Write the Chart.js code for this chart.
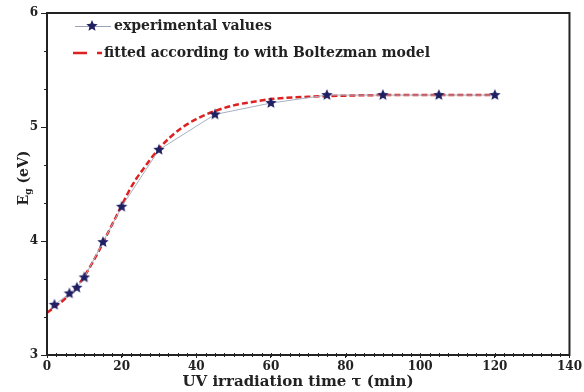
<!DOCTYPE html>
<html>
<head>
<meta charset="utf-8">
<script src="https://cdn.jsdelivr.net/npm/chart.js@4"></script>
<style>
  html, body { margin: 0; padding: 0; background: #fff; }
  #wrap { width: 584px; height: 392px; }
</style>
</head>
<body>
<div id="wrap"><canvas id="eg_graph" width="584" height="392"></canvas></div>
<script>
// experimental points (UV time in min, Eg in eV)
const exp_time   = [2, 6, 8, 10, 15, 20, 30, 45, 60, 75, 90, 105, 120];
const exp_eg     = [3.44, 3.54, 3.59, 3.68, 3.99, 4.30, 4.80, 5.11, 5.21, 5.28, 5.28, 5.28, 5.28];

// Boltzmann fit curve
const fit_time   = [0, 2, 4, 6, 8, 10, 12, 14, 16, 18, 20, 22, 24, 26, 28, 30, 33, 36, 40, 45, 50, 55, 60, 70, 80, 90, 105, 120];
const fit_eg     = [3.37, 3.42, 3.47, 3.53, 3.60, 3.69, 3.80, 3.92, 4.05, 4.18, 4.31, 4.44, 4.55, 4.64, 4.73, 4.81, 4.91, 4.99, 5.07, 5.14, 5.19, 5.22, 5.245, 5.265, 5.275, 5.28, 5.28, 5.28];

const x_ticks    = [0, 20, 40, 60, 80, 100, 120, 140];
const y_ticks    = [3, 4, 5, 6];

const serif = "'DejaVu Serif', 'Liberation Serif', serif";

function make_star(r, color){
    const c = document.createElement("canvas");
    c.width = c.height = r * 2 + 2;
    const g = c.getContext("2d");
    g.translate(r + 1, r + 1);
    g.beginPath();
    for (let i = 0; i < 10; i++){
        const rad = (i % 2 == 0) ? r : r * 0.45;
        const a = -Math.PI / 2 + i * Math.PI / 5;
        g.lineTo(rad * Math.cos(a), rad * Math.sin(a));
    }
    g.closePath();
    g.fillStyle = color;
    g.fill();
    return c;
}
const star = make_star(6, "#1f1f63");

// frame, minor ticks, axis titles and legend
const decor = {
    id: "decor",
    afterDraw(chart){
        const ctx = chart.ctx;
        const a = chart.chartArea;
        const xs = chart.scales.x, ys = chart.scales.y;
        ctx.save();
        ctx.strokeStyle = "#222";
        ctx.lineWidth = 2;
        ctx.strokeRect(a.left, a.top, a.right - a.left, a.bottom - a.top);

        ctx.lineWidth = 1;
        ctx.beginPath();
        for (let v = 0; v <= 140; v += 2.5){
            const px = Math.round(xs.getPixelForValue(v)) + 0.5;
            ctx.moveTo(px, a.bottom - 2);
            ctx.lineTo(px, a.bottom + 2);
        }
        for (let k = 0; k <= 9; k++){
            const py = Math.round(ys.getPixelForValue(3 + k / 3)) + 0.5;
            ctx.moveTo(a.left - 3, py);
            ctx.lineTo(a.left, py);
        }
        ctx.stroke();

        // x title
        ctx.fillStyle = "#222";
        ctx.font = "bold 15px " + serif;
        ctx.textAlign = "center";
        ctx.textBaseline = "middle";
        ctx.fillText("UV irradiation time \u03c4 (min)", 298, 382);

        // y title with subscript
        ctx.save();
        ctx.translate(24, 178);
        ctx.rotate(-Math.PI / 2);
        ctx.textAlign = "left";
        ctx.font = "bold 14px " + serif;
        const w1 = ctx.measureText("E").width;
        ctx.font = "bold 9px " + serif;
        const w2 = ctx.measureText("g").width;
        ctx.font = "bold 14px " + serif;
        const w3 = ctx.measureText(" (eV)").width;
        let x0 = -(w1 + w2 + w3) / 2;
        ctx.fillText("E", x0, 0);
        ctx.font = "bold 9px " + serif;
        ctx.fillText("g", x0 + w1, 5);
        ctx.font = "bold 14px " + serif;
        ctx.fillText(" (eV)", x0 + w1 + w2, 0);
        ctx.restore();

        // legend
        const ds = chart.data.datasets;
        ctx.strokeStyle = "#9aa3b5";
        ctx.lineWidth = 1;
        ctx.beginPath();
        ctx.moveTo(75, 26.5); ctx.lineTo(111, 26.5);
        ctx.stroke();
        ctx.drawImage(star, 92 - star.width / 2, 26 - star.height / 2);
        ctx.strokeStyle = "#dd2020";
        ctx.lineWidth = 2.5;
        ctx.setLineDash([14, 10]);
        ctx.beginPath();
        ctx.moveTo(73, 53); ctx.lineTo(102, 53);
        ctx.stroke();
        ctx.setLineDash([]);
        ctx.font = "bold 14px " + serif;
        ctx.textAlign = "left";
        ctx.fillStyle = "#222";
        ctx.fillText(ds[0].label, 114, 26);
        ctx.fillText(ds[1].label, 104, 53);
        ctx.restore();
    }
};

const ctx = document.getElementById("eg_graph").getContext("2d");
const chart = new Chart(ctx, {
    type: "scatter",
    data: {
        datasets: [{
            label: "experimental values",
            data: exp_time.map((t, i) => ({x: t, y: exp_eg[i]})),
            showLine: true,
            borderColor: "#a8b0c0",
            borderWidth: 1,
            pointStyle: star,
            pointRadius: 6,
            order: 1
        }, {
            label: "fitted according to with Boltezman model",
            data: fit_time.map((t, i) => ({x: t, y: fit_eg[i]})),
            showLine: true,
            borderColor: "#dd2020",
            borderWidth: 2.5,
            borderDash: [6, 3],
            cubicInterpolationMode: "monotone",
            pointRadius: 0,
            order: 2
        }]
    },
    options: {
        responsive: false,
        animation: false,
        layout: { padding: { top: 13, right: 12, left: 0, bottom: 0 } },
        plugins: { legend: { display: false }, tooltip: { enabled: false } },
        scales: {
            x: {
                type: "linear",
                min: 0, max: 140,
                afterFit: (s) => { s.height = 37; },
                afterBuildTicks: (s) => { s.ticks = x_ticks.map(v => ({value: v})); },
                grid: { drawOnChartArea: false, tickLength: 3, tickColor: "#222" },
                border: { display: false },
                ticks: { padding: 2, color: "#222", maxRotation: 0, font: { family: serif, weight: "bold", size: 12 } }
            },
            y: {
                min: 3, max: 6,
                afterFit: (s) => { s.width = 47; },
                afterBuildTicks: (s) => { s.ticks = y_ticks.map(v => ({value: v})); },
                grid: { drawOnChartArea: false, tickLength: 6, tickColor: "#222" },
                border: { display: false },
                ticks: { padding: 3, color: "#222", font: { family: serif, weight: "bold", size: 12 } }
            }
        }
    },
    plugins: [decor]
});
</script>
</body>
</html>
